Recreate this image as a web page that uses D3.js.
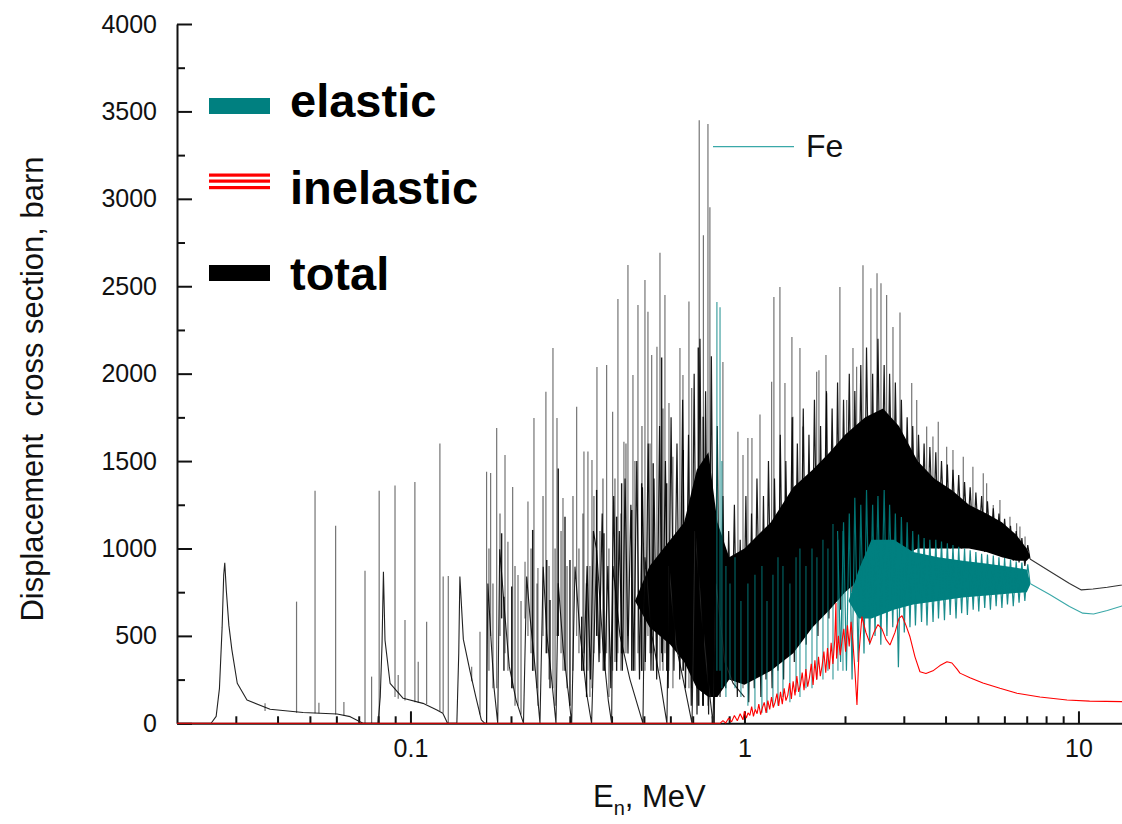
<!DOCTYPE html>
<html>
<head>
<meta charset="utf-8">
<script src="https://cdn.jsdelivr.net/npm/d3@7/dist/d3.min.js"></script>
<style>
  body { margin: 0; background: #fff; }
  svg { display: block; font-family: "Liberation Sans", Arial, sans-serif; }
</style>
</head>
<body>
<svg id="chart" width="1122" height="824"></svg>
<script>
// ---- data (E in MeV, cross section in barn) ----
const yMajor = [0, 500, 1000, 1500, 2000, 2500, 3000, 3500, 4000];
const yMinor = [250, 750, 1250, 1750, 2250, 2750, 3250, 3750];
const xMajor = [0.1, 1, 10];
const xMinor = [0.03, 0.04, 0.05, 0.06, 0.07, 0.08, 0.09, 0.2, 0.3, 0.4, 0.5, 0.6, 0.7, 0.8, 0.9,
  2, 3, 4, 5, 6, 7, 8, 9, 20];

// total: isolated resonance shapes and their tails, [E, sigma]
const totalBase = [
  [0.02, 0], [0.0253, 0], [0.0262, 40], [0.0268, 200], [0.0273, 550], [0.0276, 850], [0.0278, 918],
  [0.0281, 760], [0.0286, 560], [0.0292, 420], [0.0303, 229], [0.0324, 133], [0.038, 80], [0.0477, 62],
  [0.0603, 53], [0.066, 38], [0.0706, 9], [0.0721, 0],
  [0.08, 0], [0.0812, 150], [0.0822, 450], [0.083, 867], [0.0839, 476], [0.0869, 229], [0.0951, 143],
  [0.109, 114], [0.12, 76], [0.125, 57], [0.1285, 9], [0.129, 0],
  [0.1377, 0], [0.1395, 400], [0.1406, 839], [0.144, 480], [0.1507, 300], [0.157, 150], [0.163, 20], [0.167, 0],
  [0.169, 0], [0.1705, 800], [0.174, 500], [0.178, 200], [0.1825, 0],
  [0.185, 995], [0.1919, 610], [0.1977, 324], [0.2071, 133], [0.218, 0],
  [0.2228, 839], [0.228, 610], [0.236, 324], [0.2442, 0],
  [0.2497, 896], [0.2559, 514], [0.2648, 248], [0.2727, 0],
  [0.277, 801], [0.2868, 419], [0.297, 172], [0.3039, 0],
  [0.3109, 896], [0.322, 514], [0.3368, 172], [0.3486, 0],
  [0.3609, 991], [0.3777, 419], [0.391, 133], [0.4003, 0],
  [0.404, 900], [0.424, 500], [0.4543, 250], [0.4967, 0],
  [0.5036, 950], [0.5285, 500], [0.5585, 250], [0.586, 0],
  [0.594, 900], [0.6235, 450], [0.6637, 200], [0.6966, 0],
  [0.711, 1100], [0.746, 600], [0.7775, 250], [0.805, 0],
  [0.8217, 800], [0.874, 350], [0.924, 230], [1.0, 150]
];

// total: dense resonance region, peaks and troughs in turn, [E, sigma]
const totalDense = [
  [0.330, 300], [0.338, 900], [0.346, 250], [0.353, 1100],
  [0.360, 1000], [0.367, 350], [0.375, 1200], [0.382, 300], [0.390, 900], [0.398, 200], [0.406, 1300],
  [0.414, 350], [0.422, 1100], [0.431, 300], [0.439, 1400], [0.448, 400], [0.457, 1250], [0.466, 300],
  [0.476, 1500], [0.485, 250], [0.495, 1350], [0.505, 350], [0.515, 1600], [0.525, 300], [0.536, 1400],
  [0.546, 250], [0.557, 1700], [0.568, 350], [0.580, 1500], [0.591, 200], [0.603, 1750], [0.615, 300],
  [0.628, 1600], [0.640, 250], [0.653, 1850], [0.666, 200], [0.680, 1650], [0.693, 100], [0.707, 2000],
  [0.721, 50], [0.736, 2200], [0.750, 100], [0.765, 1900], [0.781, 50], [0.796, 2100], [0.812, 0],
  [0.829, 1700], [0.845, 150], [0.862, 1300], [0.879, 200], [0.897, 1100], [0.915, 300], [0.933, 1250],
  [0.952, 150], [0.971, 1050], [0.990, 250], [1.01, 1300], [1.03, 120], [1.05, 1200], [1.07, 200],
  [1.09, 1400], [1.12, 150], [1.14, 1300], [1.16, 250], [1.18, 1500], [1.21, 200], [1.23, 1400],
  [1.26, 300], [1.28, 1650], [1.31, 250], [1.33, 1500], [1.36, 400], [1.39, 1750], [1.41, 350],
  [1.44, 1600], [1.47, 500], [1.50, 1800], [1.53, 450], [1.56, 1650], [1.59, 550], [1.62, 1850],
  [1.66, 500], [1.69, 1700], [1.72, 650], [1.76, 1900], [1.79, 600], [1.83, 1800], [1.87, 700],
  [1.90, 1950], [1.94, 650], [1.98, 1850], [2.02, 800], [2.06, 2000], [2.10, 750], [2.14, 1900],
  [2.19, 850], [2.23, 2050], [2.28, 800], [2.32, 2150], [2.37, 900], [2.42, 2000], [2.46, 850],
  [2.51, 2200], [2.56, 950], [2.62, 2050], [2.67, 900], [2.72, 2000], [2.78, 1000], [2.83, 1950],
  [2.89, 950], [2.95, 1850], [3.01, 1000], [3.07, 1750], [3.13, 1050], [3.19, 1700], [3.25, 1000],
  [3.32, 1650], [3.39, 1050], [3.45, 1600], [3.52, 1000], [3.59, 1580], [3.67, 1050], [3.74, 1550],
  [3.81, 1000], [3.89, 1500], [3.97, 1050], [4.05, 1480], [4.13, 1000], [4.21, 1450], [4.30, 1050],
  [4.38, 1420], [4.47, 1000], [4.56, 1380], [4.65, 1050], [4.74, 1350], [4.84, 1000], [4.93, 1320],
  [5.03, 1020], [5.13, 1300], [5.24, 980], [5.34, 1270], [5.45, 1000], [5.56, 1230], [5.67, 970],
  [5.78, 1200], [5.90, 960], [6.01, 1170], [6.13, 950], [6.26, 1130], [6.38, 930], [6.51, 1100],
  [6.64, 920], [6.77, 1060], [6.91, 900], [7.05, 1020], [7.16, 940]
];

// total: solid core of the dense region, [E, low, high]
const totalCore = [
  [0.47, 700, 700], [0.52, 550, 900], [0.60, 450, 1050], [0.66, 350, 1150], [0.72, 200, 1450],
  [0.78, 150, 1550], [0.83, 150, 1150], [0.9, 250, 950], [1.0, 220, 1000], [1.2, 300, 1150],
  [1.4, 400, 1350], [1.6, 550, 1450], [1.8, 650, 1550], [2.0, 750, 1650], [2.3, 850, 1750],
  [2.6, 900, 1800], [2.9, 950, 1700], [3.3, 1000, 1500], [3.7, 1000, 1400], [4.2, 1000, 1330],
  [4.7, 1000, 1250], [5.3, 980, 1200], [5.9, 950, 1150], [6.5, 930, 1080], [7.0, 930, 1000],
  [7.16, 950, 960]
];

// total: narrow resonances, [E, low, high]
const totalSpikes = [
  [0.0367, 70, 114], [0.0456, 60, 696], [0.0518, 58, 1330], [0.0532, 58, 118], [0.0597, 50, 1130],
  [0.0632, 45, 122], [0.0731, 0, 873], [0.0765, 0, 267], [0.0806, 0, 1330], [0.0899, 150, 1360],
  [0.0919, 140, 276], [0.0963, 130, 591], [0.1031, 120, 1380], [0.1055, 118, 352], [0.1118, 110, 581],
  [0.1225, 70, 1600], [0.1253, 60, 839], [0.1298, 0, 843], [0.1525, 240, 324], [0.1615, 50, 524],
  [0.169, 0, 1439], [0.1738, 500, 1432], [0.1812, 200, 1689], [0.1919, 400, 1535], [0.1958, 300, 1039],
  [0.2023, 200, 1352], [0.2099, 100, 848], [0.2203, 600, 924], [0.2248, 500, 1268], [0.2343, 300, 1746],
  [0.2408, 100, 888], [0.2544, 400, 1897], [0.2671, 200, 2147], [0.2746, 500, 1746], [0.2862, 300, 1289],
  [0.3145, 500, 1811], [0.3307, 400, 1554], [0.3399, 300, 1554], [0.3495, 200, 1506], [0.3617, 500, 2038],
  [0.3867, 400, 2050], [0.403, 300, 1782], [0.418, 400, 2427], [0.4356, 400, 1611], [0.4479, 500, 2621],
  [0.4636, 300, 1992], [0.4799, 400, 2393], [0.5036, 300, 2536], [0.5141, 500, 2354], [0.5275, 400, 2107],
  [0.547, 300, 2154], [0.5585, 300, 2692], [0.578, 400, 2450], [0.5943, 300, 1832], [0.6107, 200, 1525],
  [0.641, 300, 2147], [0.6544, 300, 1992], [0.682, 200, 2412], [0.695, 200, 1918], [0.7321, 100, 3450],
  [0.7535, 100, 2792], [0.7775, 100, 3428], [0.788, 300, 2952], [0.862, 200, 2066], [0.956, 300, 1668],
  [0.99, 200, 1535], [1.024, 300, 1632], [1.053, 600, 1632], [1.113, 700, 1766], [1.206, 700, 1954],
  [1.225, 800, 2439], [1.277, 800, 2496], [1.322, 800, 1946], [1.387, 900, 2210], [1.397, 900, 1754],
  [1.466, 900, 2147], [1.496, 900, 1697], [1.645, 1000, 2011], [1.671, 1000, 2020], [1.754, 1000, 2107],
  [1.762, 1000, 1888], [1.931, 1100, 2496], [2.023, 1100, 1849], [2.113, 1200, 2147], [2.167, 1200, 2040],
  [2.264, 1200, 2620], [2.391, 1300, 2488], [2.494, 1300, 2574], [2.563, 1300, 2517], [2.665, 1300, 2450],
  [2.784, 1300, 2267], [2.922, 1300, 2350], [3.168, 1300, 1946], [3.279, 1300, 1849], [3.512, 1300, 1697],
  [3.667, 1300, 1640], [3.804, 1200, 1725], [4.031, 1200, 1582], [4.21, 1200, 1563], [4.52, 1150, 1525],
  [4.83, 1150, 1468], [5.188, 1100, 1430], [5.31, 1100, 1373], [5.558, 1050, 1249], [5.82, 1050, 1277],
  [6.236, 1000, 1182], [6.53, 1000, 1144], [6.68, 1000, 1125], [6.92, 950, 1068]
];

// total: medium-height resonances between the tails
const totalMidSpikes = [
  [0.1718, 300, 1000], [0.1766, 200, 800], [0.1854, 500, 1200], [0.2056, 100, 900], [0.2143, 50, 700],
  [0.2296, 400, 1000], [0.2393, 200, 800], [0.2494, 500, 1300], [0.26, 250, 900], [0.271, 100, 1000],
  [0.2824, 400, 1100], [0.2943, 200, 900], [0.3066, 300, 1300], [0.3195, 400, 1000], [0.3284, 300, 1200],
  [0.3446, 150, 900], [0.3543, 400, 1300], [0.3693, 400, 1100], [0.377, 300, 1400], [0.3929, 150, 1000],
  [0.4095, 350, 1400], [0.4268, 300, 1200], [0.4418, 400, 1600], [0.4701, 300, 1500], [0.4933, 300, 1700],
  [0.5214, 400, 1600], [0.5702, 300, 1800]
];

// total: darker medium-height resonances
const totalDarkSpikes = [
  [0.1875, 600, 1087], [0.1905, 300, 724], [0.201, 200, 782], [0.2322, 300, 1106], [0.2559, 400, 934],
  [0.2617, 200, 705], [0.277, 500, 1458], [0.2902, 300, 1182], [0.3003, 100, 934], [0.3256, 300, 610],
  [0.3368, 150, 801], [0.3609, 500, 1335], [0.3796, 300, 1087], [0.4143, 300, 1182], [0.4288, 400, 1373],
  [0.4597, 300, 1220], [0.4923, 300, 1373], [0.5331, 300, 1487], [0.565, 400, 2093], [0.585, 300, 1373],
  [0.6559, 300, 1563], [0.7273, 100, 2150], [0.7524, 100, 1754]
];

const totalTail = [
  [7.16, 940], [8.2, 870], [9.4, 800], [10.2, 763], [11.05, 768], [12.2, 778], [13.5, 791], [14, 796]
];

// elastic
const elasticDense = [
  [1.90, 1100], [1.94, 350], [1.98, 1150], [2.02, 300], [2.06, 1200], [2.10, 250], [2.14, 1290],
  [2.19, 350], [2.23, 1250], [2.28, 400], [2.32, 1335], [2.37, 450], [2.42, 1250], [2.46, 500],
  [2.51, 1300], [2.56, 450], [2.62, 1335], [2.67, 500], [2.72, 1250], [2.78, 550], [2.83, 1200],
  [2.89, 320], [2.95, 1180], [3.01, 520], [3.07, 1150], [3.13, 550], [3.19, 1100], [3.25, 560],
  [3.32, 1080], [3.39, 580], [3.45, 1060], [3.52, 560], [3.59, 1050], [3.67, 580], [3.74, 1050],
  [3.81, 600], [3.89, 1040], [3.97, 590], [4.05, 1030], [4.13, 620], [4.21, 1020], [4.30, 600],
  [4.38, 1010], [4.47, 630], [4.56, 1000], [4.65, 620], [4.74, 990], [4.84, 650], [4.93, 980],
  [5.03, 640], [5.13, 970], [5.24, 660], [5.34, 965], [5.45, 650], [5.56, 960], [5.67, 670],
  [5.78, 950], [5.90, 660], [6.01, 945], [6.13, 680], [6.26, 935], [6.38, 670], [6.51, 925],
  [6.64, 690], [6.77, 920], [6.91, 700], [7.05, 910], [7.16, 800]
];

const elasticCore = [
  [2.05, 700, 700], [2.2, 600, 880], [2.4, 600, 1050], [2.8, 650, 1050], [3.2, 680, 980],
  [3.8, 700, 950], [4.5, 720, 930], [5.2, 730, 915], [6.0, 740, 900], [7.0, 750, 880], [7.16, 790, 810]
];

const elasticSpikes = [
  [0.827, 300, 2410], [0.845, 300, 2380], [0.856, 200, 1500], [0.88, 150, 900], [0.905, 250, 800],
  [0.937, 200, 950], [0.976, 150, 700], [1.024, 100, 800], [1.075, 80, 850], [1.128, 60, 900],
  [1.168, 60, 700], [1.217, 100, 850], [1.26, 100, 950], [1.304, 150, 900], [1.368, 120, 800],
  [1.427, 180, 950], [1.466, 150, 1000], [1.528, 200, 900], [1.593, 200, 1000], [1.648, 250, 950],
  [1.718, 250, 1050], [1.778, 300, 1000], [1.841, 250, 1140], [1.905, 300, 1050], [1.972, 300, 1100]
];

const elasticTail = [
  [7.16, 800], [8.2, 737], [9.4, 668], [10.3, 630], [11.1, 625], [12.2, 645], [13.5, 671], [14, 680]
];

// inelastic
const inelastic = [
  [0.02, 0], [0.845, 0], [0.862, 15], [0.879, 2], [0.897, 30], [0.915, 8], [0.933, 45], [0.952, 15],
  [0.971, 55], [0.990, 20], [1.000, 70], [1.013, 30], [1.025, 60], [1.038, 45], [1.051, 95], [1.064, 40],
  [1.077, 80], [1.091, 55], [1.104, 110], [1.118, 50], [1.132, 90], [1.146, 120], [1.161, 60], [1.175, 130],
  [1.190, 80], [1.205, 150], [1.220, 90], [1.235, 120], [1.251, 170], [1.266, 100], [1.282, 180],
  [1.298, 110], [1.315, 200], [1.331, 130], [1.348, 160], [1.365, 230], [1.382, 140], [1.399, 240],
  [1.417, 160], [1.435, 270], [1.453, 180], [1.471, 220], [1.489, 290], [1.508, 190], [1.527, 310],
  [1.546, 210], [1.565, 260], [1.585, 340], [1.605, 220], [1.625, 360], [1.645, 250], [1.666, 380],
  [1.687, 270], [1.708, 330], [1.729, 410], [1.751, 290], [1.773, 430], [1.795, 310], [1.818, 460],
  [1.840, 340], [1.864, 480], [1.879, 688], [1.887, 370], [1.911, 500], [1.935, 390], [1.959, 470],
  [1.984, 540], [2.008, 410], [2.034, 560], [2.059, 440], [2.085, 580], [2.111, 470], [2.142, 300],
  [2.172, 105], [2.202, 400], [2.247, 610], [2.31, 520], [2.375, 458], [2.442, 520], [2.51, 565],
  [2.58, 540], [2.653, 480], [2.727, 448], [2.823, 520], [2.902, 600], [2.963, 615], [3.045, 560],
  [3.13, 495], [3.24, 380], [3.353, 295], [3.494, 285], [3.667, 300], [3.848, 330], [4.04, 352],
  [4.18, 345], [4.33, 310], [4.418, 287], [4.733, 260], [5.176, 230], [5.82, 200], [6.545, 172],
  [7.667, 150], [9.24, 133], [10.8, 127], [13.5, 124], [14, 124]
];

const legendItems = ['elastic', 'inelastic', 'total'];

// ---- layout ----
const svg = d3.select('#chart');
const x = d3.scaleLog().domain([0.02, 20]).range([177, 1179]);
const y = d3.scaleLinear().domain([0, 4000]).range([723.3, 24]);

const teal = '#008080';

// axes
svg.append('g').attr('transform', 'translate(177,0)')
  .call(d3.axisLeft(y).tickValues(yMajor).tickSize(-15).tickSizeOuter(0).tickPadding(20)
    .tickFormat(d3.format('d')));
svg.append('g').attr('transform', 'translate(177,0)')
  .call(d3.axisLeft(y).tickValues(yMinor).tickSize(-8).tickSizeOuter(0).tickFormat(''))
  .call(g => g.select('.domain').remove());

svg.append('g').attr('transform', `translate(0,${y(0)})`)
  .call(d3.axisBottom(x).tickValues(xMajor).tickSize(-12).tickSizeOuter(0).tickPadding(16)
    .tickFormat(d3.format('~g')));
svg.append('g').attr('transform', `translate(0,${y(0)})`)
  .call(d3.axisBottom(x).tickValues(xMinor).tickSize(-7).tickSizeOuter(0).tickFormat(''))
  .call(g => g.select('.domain').remove());

svg.selectAll('.domain, .tick line').attr('stroke', '#111').attr('stroke-width', 2);
svg.selectAll('.tick text').attr('font-size', 25).attr('fill', '#111')
  .attr('font-family', '"Liberation Sans", Arial, sans-serif');

// data
const line = d3.line().x(d => x(d[0])).y(d => y(d[1]));
const band = d3.area().x(d => x(d[0])).y0(d => y(d[1])).y1(d => y(d[2]));
const plot = svg.append('g');

function spikes(data, color, opacity, width) {
  plot.append('g').selectAll('line').data(data).join('line')
    .attr('x1', d => x(d[0])).attr('x2', d => x(d[0]))
    .attr('y1', d => y(d[1])).attr('y2', d => y(d[2]))
    .attr('stroke', color).attr('stroke-opacity', opacity).attr('stroke-width', width);
}

function curve(data, color, width, opacity) {
  plot.append('path').datum(data).attr('d', line)
    .attr('fill', 'none').attr('stroke', color).attr('stroke-width', width)
    .attr('stroke-opacity', opacity).attr('stroke-linejoin', 'bevel');
}

// total
plot.append('path').datum(totalCore).attr('d', band).attr('fill', '#000');
curve(totalBase, '#222', 1.1, 1);
curve(totalDense, '#000', 1.2, 0.9);
spikes(totalSpikes, '#000', 0.55, 1.2);
spikes(totalMidSpikes, '#000', 0.6, 1.2);
spikes(totalDarkSpikes, '#000', 0.9, 1.4);
curve(totalTail, '#333', 1.1, 1);

// elastic
plot.append('path').datum(elasticCore).attr('d', band).attr('fill', teal);
spikes(elasticSpikes, teal, 0.75, 1.2);
curve(elasticDense, teal, 1.2, 0.9);
curve(elasticTail, '#3aa8a8', 1.1, 1);

// inelastic
curve(inelastic, '#ff0000', 1.1, 1);

// legend
const lg = svg.append('g');
lg.append('rect').attr('x', 209).attr('y', 98).attr('width', 61).attr('height', 16).attr('fill', teal);
[173.5, 179.5, 186].forEach(v => lg.append('rect').attr('x', 209).attr('y', v)
  .attr('width', 61).attr('height', 3.2).attr('fill', '#ff0000'));
lg.append('rect').attr('x', 209).attr('y', 265).attr('width', 61).attr('height', 16).attr('fill', '#000');
lg.selectAll('text').data(legendItems).join('text')
  .attr('x', 290).attr('y', (d, i) => [117, 204, 290][i])
  .attr('font-size', 47).attr('font-weight', 'bold').attr('fill', '#000').text(d => d);

// Fe label
svg.append('line').attr('x1', 713).attr('x2', 794).attr('y1', 146.7).attr('y2', 146.7)
  .attr('stroke', '#3aa8a8').attr('stroke-width', 1.3);
svg.append('text').attr('x', 806).attr('y', 157).attr('font-size', 32).attr('fill', '#111').text('Fe');

// axis titles
svg.append('text')
  .attr('transform', 'translate(43,389) rotate(-90)')
  .attr('text-anchor', 'middle').attr('font-size', 31).attr('fill', '#111')
  .style('white-space', 'pre')
  .text('Displacement  cross section, barn');

const xt = svg.append('text').attr('x', 593).attr('y', 807).attr('font-size', 31).attr('fill', '#111');
xt.append('tspan').text('E');
xt.append('tspan').attr('font-size', 20).attr('dy', 8).text('n');
xt.append('tspan').attr('dy', -8).text(', MeV');
</script>
</body>
</html>
